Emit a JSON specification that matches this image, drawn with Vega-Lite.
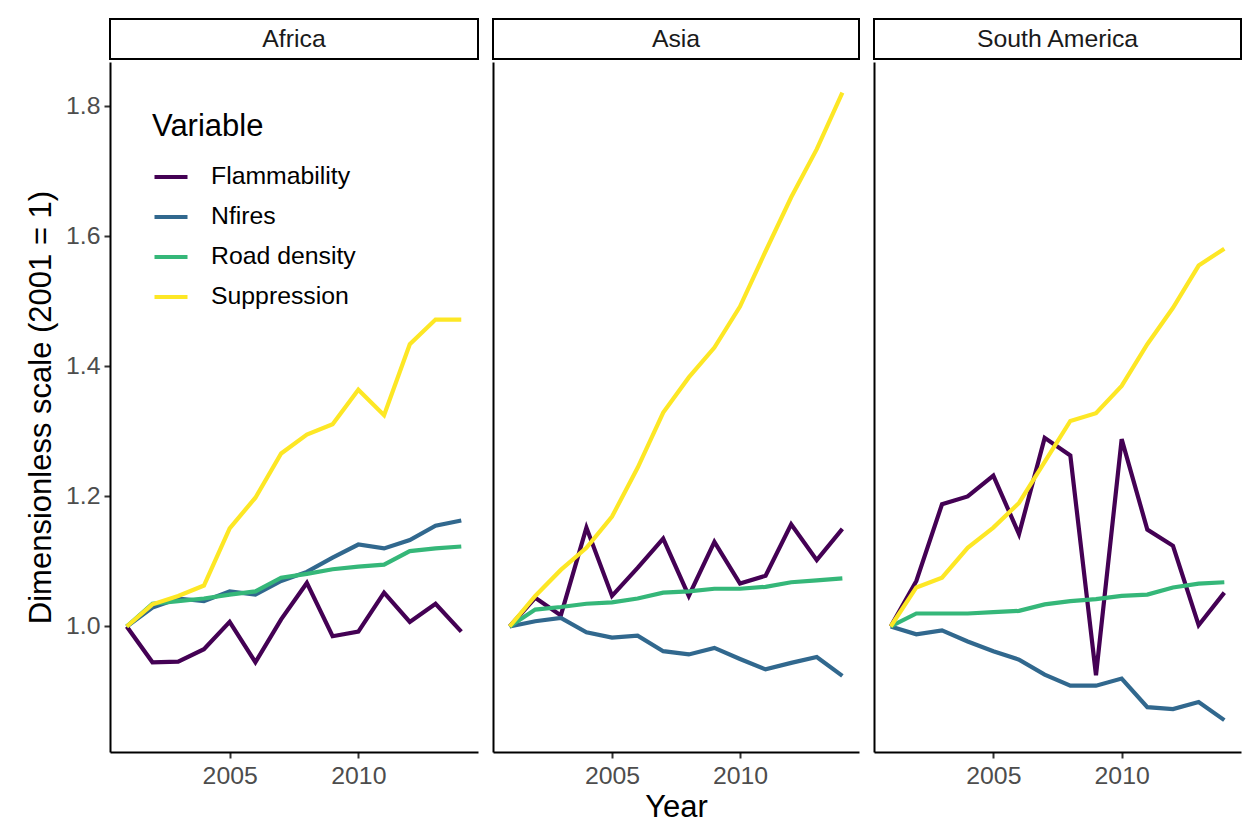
{
  "$schema": "https://vega.github.io/schema/vega-lite/v6.json",
  "background": "white",
  "padding": {"left": 25, "top": 18, "right": 6, "bottom": 8},
  "spacing": 13,
  "config": {
    "font": "Liberation Sans",
    "view": {"stroke": null},
    "axis": {
      "labelFont": "Liberation Sans",
      "labelFontSize": 24.8,
      "labelColor": "#4d4d4d",
      "titleFont": "Liberation Sans",
      "titleFontSize": 31,
      "titleFontWeight": "normal",
      "titleColor": "black",
      "domainColor": "black",
      "domainWidth": 2,
      "tickColor": "#333333",
      "tickWidth": 2,
      "tickSize": 6,
      "grid": false
    },
    "legend": {
      "titleFont": "Liberation Sans",
      "labelFont": "Liberation Sans"
    }
  },
  "datasets": {
    "d": [
      {"region": "Africa", "variable": "Flammability", "year": 2001, "value": 1.0},
      {"region": "Africa", "variable": "Flammability", "year": 2002, "value": 0.945},
      {"region": "Africa", "variable": "Flammability", "year": 2003, "value": 0.946},
      {"region": "Africa", "variable": "Flammability", "year": 2004, "value": 0.965},
      {"region": "Africa", "variable": "Flammability", "year": 2005, "value": 1.007},
      {"region": "Africa", "variable": "Flammability", "year": 2006, "value": 0.945},
      {"region": "Africa", "variable": "Flammability", "year": 2007, "value": 1.011},
      {"region": "Africa", "variable": "Flammability", "year": 2008, "value": 1.067},
      {"region": "Africa", "variable": "Flammability", "year": 2009, "value": 0.985},
      {"region": "Africa", "variable": "Flammability", "year": 2010, "value": 0.992},
      {"region": "Africa", "variable": "Flammability", "year": 2011, "value": 1.052},
      {"region": "Africa", "variable": "Flammability", "year": 2012, "value": 1.007},
      {"region": "Africa", "variable": "Flammability", "year": 2013, "value": 1.035},
      {"region": "Africa", "variable": "Flammability", "year": 2014, "value": 0.992},
      {"region": "Africa", "variable": "Nfires", "year": 2001, "value": 1.0},
      {"region": "Africa", "variable": "Nfires", "year": 2002, "value": 1.029},
      {"region": "Africa", "variable": "Nfires", "year": 2003, "value": 1.043},
      {"region": "Africa", "variable": "Nfires", "year": 2004, "value": 1.039},
      {"region": "Africa", "variable": "Nfires", "year": 2005, "value": 1.054},
      {"region": "Africa", "variable": "Nfires", "year": 2006, "value": 1.049},
      {"region": "Africa", "variable": "Nfires", "year": 2007, "value": 1.070},
      {"region": "Africa", "variable": "Nfires", "year": 2008, "value": 1.084},
      {"region": "Africa", "variable": "Nfires", "year": 2009, "value": 1.106},
      {"region": "Africa", "variable": "Nfires", "year": 2010, "value": 1.126},
      {"region": "Africa", "variable": "Nfires", "year": 2011, "value": 1.120},
      {"region": "Africa", "variable": "Nfires", "year": 2012, "value": 1.133},
      {"region": "Africa", "variable": "Nfires", "year": 2013, "value": 1.155},
      {"region": "Africa", "variable": "Nfires", "year": 2014, "value": 1.163},
      {"region": "Africa", "variable": "Road density", "year": 2001, "value": 1.0},
      {"region": "Africa", "variable": "Road density", "year": 2002, "value": 1.035},
      {"region": "Africa", "variable": "Road density", "year": 2003, "value": 1.039},
      {"region": "Africa", "variable": "Road density", "year": 2004, "value": 1.043},
      {"region": "Africa", "variable": "Road density", "year": 2005, "value": 1.049},
      {"region": "Africa", "variable": "Road density", "year": 2006, "value": 1.054},
      {"region": "Africa", "variable": "Road density", "year": 2007, "value": 1.075},
      {"region": "Africa", "variable": "Road density", "year": 2008, "value": 1.081},
      {"region": "Africa", "variable": "Road density", "year": 2009, "value": 1.088},
      {"region": "Africa", "variable": "Road density", "year": 2010, "value": 1.092},
      {"region": "Africa", "variable": "Road density", "year": 2011, "value": 1.095},
      {"region": "Africa", "variable": "Road density", "year": 2012, "value": 1.116},
      {"region": "Africa", "variable": "Road density", "year": 2013, "value": 1.120},
      {"region": "Africa", "variable": "Road density", "year": 2014, "value": 1.123},
      {"region": "Africa", "variable": "Suppression", "year": 2001, "value": 1.0},
      {"region": "Africa", "variable": "Suppression", "year": 2002, "value": 1.034},
      {"region": "Africa", "variable": "Suppression", "year": 2003, "value": 1.047},
      {"region": "Africa", "variable": "Suppression", "year": 2004, "value": 1.063},
      {"region": "Africa", "variable": "Suppression", "year": 2005, "value": 1.151},
      {"region": "Africa", "variable": "Suppression", "year": 2006, "value": 1.198},
      {"region": "Africa", "variable": "Suppression", "year": 2007, "value": 1.266},
      {"region": "Africa", "variable": "Suppression", "year": 2008, "value": 1.295},
      {"region": "Africa", "variable": "Suppression", "year": 2009, "value": 1.311},
      {"region": "Africa", "variable": "Suppression", "year": 2010, "value": 1.364},
      {"region": "Africa", "variable": "Suppression", "year": 2011, "value": 1.325},
      {"region": "Africa", "variable": "Suppression", "year": 2012, "value": 1.434},
      {"region": "Africa", "variable": "Suppression", "year": 2013, "value": 1.472},
      {"region": "Africa", "variable": "Suppression", "year": 2014, "value": 1.472},
      {"region": "Asia", "variable": "Flammability", "year": 2001, "value": 1.0},
      {"region": "Asia", "variable": "Flammability", "year": 2002, "value": 1.044},
      {"region": "Asia", "variable": "Flammability", "year": 2003, "value": 1.017},
      {"region": "Asia", "variable": "Flammability", "year": 2004, "value": 1.152},
      {"region": "Asia", "variable": "Flammability", "year": 2005, "value": 1.047},
      {"region": "Asia", "variable": "Flammability", "year": 2006, "value": 1.090},
      {"region": "Asia", "variable": "Flammability", "year": 2007, "value": 1.135},
      {"region": "Asia", "variable": "Flammability", "year": 2008, "value": 1.047},
      {"region": "Asia", "variable": "Flammability", "year": 2009, "value": 1.130},
      {"region": "Asia", "variable": "Flammability", "year": 2010, "value": 1.066},
      {"region": "Asia", "variable": "Flammability", "year": 2011, "value": 1.078},
      {"region": "Asia", "variable": "Flammability", "year": 2012, "value": 1.157},
      {"region": "Asia", "variable": "Flammability", "year": 2013, "value": 1.102},
      {"region": "Asia", "variable": "Flammability", "year": 2014, "value": 1.150},
      {"region": "Asia", "variable": "Nfires", "year": 2001, "value": 1.0},
      {"region": "Asia", "variable": "Nfires", "year": 2002, "value": 1.008},
      {"region": "Asia", "variable": "Nfires", "year": 2003, "value": 1.013},
      {"region": "Asia", "variable": "Nfires", "year": 2004, "value": 0.991},
      {"region": "Asia", "variable": "Nfires", "year": 2005, "value": 0.983},
      {"region": "Asia", "variable": "Nfires", "year": 2006, "value": 0.986},
      {"region": "Asia", "variable": "Nfires", "year": 2007, "value": 0.962},
      {"region": "Asia", "variable": "Nfires", "year": 2008, "value": 0.957},
      {"region": "Asia", "variable": "Nfires", "year": 2009, "value": 0.967},
      {"region": "Asia", "variable": "Nfires", "year": 2010, "value": 0.950},
      {"region": "Asia", "variable": "Nfires", "year": 2011, "value": 0.934},
      {"region": "Asia", "variable": "Nfires", "year": 2012, "value": 0.944},
      {"region": "Asia", "variable": "Nfires", "year": 2013, "value": 0.953},
      {"region": "Asia", "variable": "Nfires", "year": 2014, "value": 0.924},
      {"region": "Asia", "variable": "Road density", "year": 2001, "value": 1.0},
      {"region": "Asia", "variable": "Road density", "year": 2002, "value": 1.026},
      {"region": "Asia", "variable": "Road density", "year": 2003, "value": 1.030},
      {"region": "Asia", "variable": "Road density", "year": 2004, "value": 1.035},
      {"region": "Asia", "variable": "Road density", "year": 2005, "value": 1.037},
      {"region": "Asia", "variable": "Road density", "year": 2006, "value": 1.043},
      {"region": "Asia", "variable": "Road density", "year": 2007, "value": 1.052},
      {"region": "Asia", "variable": "Road density", "year": 2008, "value": 1.054},
      {"region": "Asia", "variable": "Road density", "year": 2009, "value": 1.058},
      {"region": "Asia", "variable": "Road density", "year": 2010, "value": 1.058},
      {"region": "Asia", "variable": "Road density", "year": 2011, "value": 1.061},
      {"region": "Asia", "variable": "Road density", "year": 2012, "value": 1.068},
      {"region": "Asia", "variable": "Road density", "year": 2013, "value": 1.071},
      {"region": "Asia", "variable": "Road density", "year": 2014, "value": 1.074},
      {"region": "Asia", "variable": "Suppression", "year": 2001, "value": 1.0},
      {"region": "Asia", "variable": "Suppression", "year": 2002, "value": 1.047},
      {"region": "Asia", "variable": "Suppression", "year": 2003, "value": 1.087},
      {"region": "Asia", "variable": "Suppression", "year": 2004, "value": 1.121},
      {"region": "Asia", "variable": "Suppression", "year": 2005, "value": 1.169},
      {"region": "Asia", "variable": "Suppression", "year": 2006, "value": 1.244},
      {"region": "Asia", "variable": "Suppression", "year": 2007, "value": 1.329},
      {"region": "Asia", "variable": "Suppression", "year": 2008, "value": 1.383},
      {"region": "Asia", "variable": "Suppression", "year": 2009, "value": 1.429},
      {"region": "Asia", "variable": "Suppression", "year": 2010, "value": 1.492},
      {"region": "Asia", "variable": "Suppression", "year": 2011, "value": 1.577},
      {"region": "Asia", "variable": "Suppression", "year": 2012, "value": 1.660},
      {"region": "Asia", "variable": "Suppression", "year": 2013, "value": 1.734},
      {"region": "Asia", "variable": "Suppression", "year": 2014, "value": 1.821},
      {"region": "South America", "variable": "Flammability", "year": 2001, "value": 1.0},
      {"region": "South America", "variable": "Flammability", "year": 2002, "value": 1.070},
      {"region": "South America", "variable": "Flammability", "year": 2003, "value": 1.188},
      {"region": "South America", "variable": "Flammability", "year": 2004, "value": 1.200},
      {"region": "South America", "variable": "Flammability", "year": 2005, "value": 1.232},
      {"region": "South America", "variable": "Flammability", "year": 2006, "value": 1.142},
      {"region": "South America", "variable": "Flammability", "year": 2007, "value": 1.290},
      {"region": "South America", "variable": "Flammability", "year": 2008, "value": 1.263},
      {"region": "South America", "variable": "Flammability", "year": 2009, "value": 0.925},
      {"region": "South America", "variable": "Flammability", "year": 2010, "value": 1.288},
      {"region": "South America", "variable": "Flammability", "year": 2011, "value": 1.149},
      {"region": "South America", "variable": "Flammability", "year": 2012, "value": 1.124},
      {"region": "South America", "variable": "Flammability", "year": 2013, "value": 1.002},
      {"region": "South America", "variable": "Flammability", "year": 2014, "value": 1.052},
      {"region": "South America", "variable": "Nfires", "year": 2001, "value": 1.0},
      {"region": "South America", "variable": "Nfires", "year": 2002, "value": 0.988},
      {"region": "South America", "variable": "Nfires", "year": 2003, "value": 0.994},
      {"region": "South America", "variable": "Nfires", "year": 2004, "value": 0.977},
      {"region": "South America", "variable": "Nfires", "year": 2005, "value": 0.962},
      {"region": "South America", "variable": "Nfires", "year": 2006, "value": 0.949},
      {"region": "South America", "variable": "Nfires", "year": 2007, "value": 0.926},
      {"region": "South America", "variable": "Nfires", "year": 2008, "value": 0.909},
      {"region": "South America", "variable": "Nfires", "year": 2009, "value": 0.909},
      {"region": "South America", "variable": "Nfires", "year": 2010, "value": 0.920},
      {"region": "South America", "variable": "Nfires", "year": 2011, "value": 0.876},
      {"region": "South America", "variable": "Nfires", "year": 2012, "value": 0.873},
      {"region": "South America", "variable": "Nfires", "year": 2013, "value": 0.884},
      {"region": "South America", "variable": "Nfires", "year": 2014, "value": 0.856},
      {"region": "South America", "variable": "Road density", "year": 2001, "value": 1.0},
      {"region": "South America", "variable": "Road density", "year": 2002, "value": 1.020},
      {"region": "South America", "variable": "Road density", "year": 2003, "value": 1.020},
      {"region": "South America", "variable": "Road density", "year": 2004, "value": 1.020},
      {"region": "South America", "variable": "Road density", "year": 2005, "value": 1.022},
      {"region": "South America", "variable": "Road density", "year": 2006, "value": 1.024},
      {"region": "South America", "variable": "Road density", "year": 2007, "value": 1.034},
      {"region": "South America", "variable": "Road density", "year": 2008, "value": 1.039},
      {"region": "South America", "variable": "Road density", "year": 2009, "value": 1.042},
      {"region": "South America", "variable": "Road density", "year": 2010, "value": 1.047},
      {"region": "South America", "variable": "Road density", "year": 2011, "value": 1.049},
      {"region": "South America", "variable": "Road density", "year": 2012, "value": 1.060},
      {"region": "South America", "variable": "Road density", "year": 2013, "value": 1.066},
      {"region": "South America", "variable": "Road density", "year": 2014, "value": 1.068},
      {"region": "South America", "variable": "Suppression", "year": 2001, "value": 1.0},
      {"region": "South America", "variable": "Suppression", "year": 2002, "value": 1.060},
      {"region": "South America", "variable": "Suppression", "year": 2003, "value": 1.075},
      {"region": "South America", "variable": "Suppression", "year": 2004, "value": 1.121},
      {"region": "South America", "variable": "Suppression", "year": 2005, "value": 1.152},
      {"region": "South America", "variable": "Suppression", "year": 2006, "value": 1.190},
      {"region": "South America", "variable": "Suppression", "year": 2007, "value": 1.253},
      {"region": "South America", "variable": "Suppression", "year": 2008, "value": 1.316},
      {"region": "South America", "variable": "Suppression", "year": 2009, "value": 1.328},
      {"region": "South America", "variable": "Suppression", "year": 2010, "value": 1.370},
      {"region": "South America", "variable": "Suppression", "year": 2011, "value": 1.434},
      {"region": "South America", "variable": "Suppression", "year": 2012, "value": 1.490},
      {"region": "South America", "variable": "Suppression", "year": 2013, "value": 1.555},
      {"region": "South America", "variable": "Suppression", "year": 2014, "value": 1.581}
    ]
  },
  "resolve": {"legend": {"color": "independent"}, "scale": {"color": "shared"}},
  "hconcat": [
    {
      "spacing": 2,
      "resolve": {"legend": {"color": "independent"}},
      "vconcat": [
        {
          "data": {"values": [{"region": "Africa"}]},
          "width": 368, "height": 40,
          "view": {"stroke": "black", "strokeWidth": 2, "fill": "white"},
          "mark": {"type": "text", "fontSize": 24.8, "color": "#1a1a1a", "font": "Liberation Sans", "dy": 1},
          "encoding": {"text": {"field": "region"}}
        },
        {
          "data": {"name": "d"},
          "transform": [{"filter": "datum.region === 'Africa'"}],
          "width": 368, "height": 690,
          "mark": {"type": "line", "strokeWidth": 4.2, "strokeJoin": "miter"},
          "encoding": {
            "x": {"field": "year", "type": "quantitative", "scale": {"domain": [2000.35, 2014.65], "nice": false, "zero": false},
                  "axis": {"values": [2005, 2010], "format": "d", "title": null, "labelPadding": 5}},
            "y": {"field": "value", "type": "quantitative", "scale": {"domain": [0.807, 1.868], "nice": false, "zero": false},
                  "axis": {"values": [1.0, 1.2, 1.4, 1.6, 1.8], "format": ".1f", "title": "Dimensionless scale (2001 = 1)", "titlePadding": 8, "labelPadding": 4}},
            "color": {"field": "variable", "type": "nominal",
                      "scale": {"domain": ["Flammability", "Nfires", "Road density", "Suppression"], "range": ["#440154", "#31688E", "#35B779", "#FDE725"]},
                      "legend": {"title": "Variable", "orient": "none", "legendX": 42, "legendY": 50, "padding": 0,
                                 "titleFontSize": 31, "titleFontWeight": "normal", "titleColor": "black", "titlePadding": 15,
                                 "labelFontSize": 24.8, "labelColor": "black", "labelOffset": 21,
                                 "symbolType": "stroke", "symbolSize": 1089, "symbolStrokeWidth": 4.2, "rowPadding": 9}}
          }
        }
      ]
    },
    {
      "spacing": 2,
      "vconcat": [
        {
          "data": {"values": [{"region": "Asia"}]},
          "width": 366, "height": 40,
          "view": {"stroke": "black", "strokeWidth": 2, "fill": "white"},
          "mark": {"type": "text", "fontSize": 24.8, "color": "#1a1a1a", "font": "Liberation Sans", "dy": 1},
          "encoding": {"text": {"field": "region"}}
        },
        {
          "data": {"name": "d"},
          "transform": [{"filter": "datum.region === 'Asia'"}],
          "width": 366, "height": 690,
          "mark": {"type": "line", "strokeWidth": 4.2, "strokeJoin": "miter"},
          "encoding": {
            "x": {"field": "year", "type": "quantitative", "scale": {"domain": [2000.35, 2014.65], "nice": false, "zero": false},
                  "axis": {"values": [2005, 2010], "format": "d", "title": "Year", "labelPadding": 5, "titlePadding": 5}},
            "y": {"field": "value", "type": "quantitative", "scale": {"domain": [0.807, 1.868], "nice": false, "zero": false},
                  "axis": {"values": [1.0, 1.2, 1.4, 1.6, 1.8], "labels": false, "ticks": false, "title": null}},
            "color": {"field": "variable", "type": "nominal",
                      "scale": {"domain": ["Flammability", "Nfires", "Road density", "Suppression"], "range": ["#440154", "#31688E", "#35B779", "#FDE725"]},
                      "legend": null}
          }
        }
      ]
    },
    {
      "spacing": 2,
      "vconcat": [
        {
          "data": {"values": [{"region": "South America"}]},
          "width": 367, "height": 40,
          "view": {"stroke": "black", "strokeWidth": 2, "fill": "white"},
          "mark": {"type": "text", "fontSize": 24.8, "color": "#1a1a1a", "font": "Liberation Sans", "dy": 1},
          "encoding": {"text": {"field": "region"}}
        },
        {
          "data": {"name": "d"},
          "transform": [{"filter": "datum.region === 'South America'"}],
          "width": 367, "height": 690,
          "mark": {"type": "line", "strokeWidth": 4.2, "strokeJoin": "miter"},
          "encoding": {
            "x": {"field": "year", "type": "quantitative", "scale": {"domain": [2000.35, 2014.65], "nice": false, "zero": false},
                  "axis": {"values": [2005, 2010], "format": "d", "title": null, "labelPadding": 5}},
            "y": {"field": "value", "type": "quantitative", "scale": {"domain": [0.807, 1.868], "nice": false, "zero": false},
                  "axis": {"values": [1.0, 1.2, 1.4, 1.6, 1.8], "labels": false, "ticks": false, "title": null}},
            "color": {"field": "variable", "type": "nominal",
                      "scale": {"domain": ["Flammability", "Nfires", "Road density", "Suppression"], "range": ["#440154", "#31688E", "#35B779", "#FDE725"]},
                      "legend": null}
          }
        }
      ]
    }
  ]
}
